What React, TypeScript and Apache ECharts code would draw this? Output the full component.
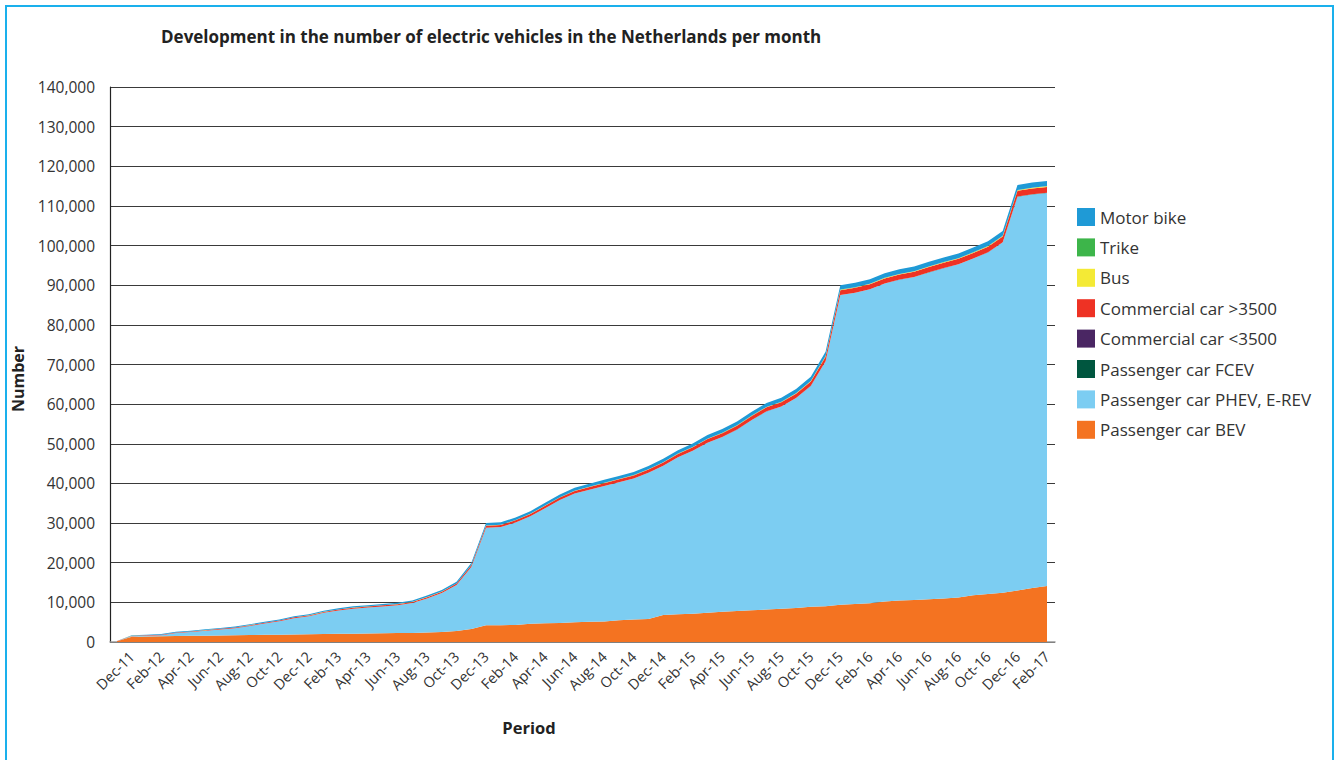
import React, { useEffect, useRef } from 'react';
import * as echarts from 'echarts';

const months = [
  'Nov-11', 'Dec-11', 'Jan-12', 'Feb-12', 'Mar-12', 'Apr-12', 'May-12', 'Jun-12', 'Jul-12', 'Aug-12', 'Sep-12', 'Oct-12', 'Nov-12', 'Dec-12',
  'Jan-13', 'Feb-13', 'Mar-13', 'Apr-13', 'May-13', 'Jun-13', 'Jul-13', 'Aug-13', 'Sep-13', 'Oct-13', 'Nov-13', 'Dec-13',
  'Jan-14', 'Feb-14', 'Mar-14', 'Apr-14', 'May-14', 'Jun-14', 'Jul-14', 'Aug-14', 'Sep-14', 'Oct-14', 'Nov-14', 'Dec-14',
  'Jan-15', 'Feb-15', 'Mar-15', 'Apr-15', 'May-15', 'Jun-15', 'Jul-15', 'Aug-15', 'Sep-15', 'Oct-15', 'Nov-15', 'Dec-15',
  'Jan-16', 'Feb-16', 'Mar-16', 'Apr-16', 'May-16', 'Jun-16', 'Jul-16', 'Aug-16', 'Sep-16', 'Oct-16', 'Nov-16', 'Dec-16',
  'Jan-17', 'Feb-17',
];

const passengerBEV = [
  200, 1350, 1400, 1450, 1500, 1550, 1600, 1650, 1700, 1750, 1800, 1850, 1900, 1950,
  2000, 2050, 2100, 2150, 2200, 2250, 2300, 2400, 2500, 2800, 3300, 4200,
  4250, 4300, 4600, 4700, 4800, 5000, 5100, 5200, 5500, 5700, 5800, 6800,
  7000, 7100, 7400, 7600, 7800, 8000, 8200, 8400, 8600, 8900, 9000, 9400,
  9600, 9800, 10200, 10500, 10600, 10800, 11000, 11200, 11800, 12100, 12400, 13000,
  13600, 14100,
];

const passengerPHEV = [
  20, 92, 172, 251, 781, 954, 1234, 1513, 1793, 2316, 2846, 3375, 4100, 4528,
  5358, 5882, 6312, 6540, 6765, 6994, 7524, 8577, 9837, 11561, 15640, 24633,
  24742, 25846, 27105, 29048, 31007, 32461, 33310, 34153, 34802, 35546, 36905, 37638,
  39587, 41130, 42879, 44122, 45770, 48014, 49963, 51005, 52954, 55698, 61816, 78139,
  78508, 79171, 80240, 80902, 81471, 82433, 83300, 84061, 84913, 86165, 88417, 99337,
  99298, 99174,
];

const passengerFCEV = [
  0, 0, 0, 0, 0, 0, 0, 0, 0, 0, 0, 0, 0, 0,
  0, 0, 0, 0, 0, 0, 0, 0, 0, 0, 0, 0,
  0, 0, 0, 0, 0, 0, 0, 0, 0, 0, 0, 0,
  0, 1, 1, 1, 2, 2, 2, 3, 3, 3, 4, 4,
  4, 5, 5, 6, 6, 8, 10, 12, 14, 16, 18, 20,
  22, 24,
];

const commercialSmall = [
  0, 1, 1, 1, 1, 2, 2, 2, 2, 3, 3, 3, 3, 4,
  4, 4, 4, 5, 5, 5, 5, 6, 6, 6, 6, 7,
  7, 7, 7, 8, 8, 8, 8, 9, 9, 9, 9, 10,
  10, 10, 10, 11, 11, 11, 11, 12, 12, 12, 12, 13,
  13, 13, 13, 14, 14, 14, 14, 15, 15, 15, 15, 16,
  16, 16,
];

const commercialLarge = [
  10, 100, 110, 120, 130, 140, 150, 160, 170, 180, 190, 200, 210, 220,
  230, 240, 250, 260, 270, 280, 290, 310, 330, 360, 400, 500,
  520, 540, 560, 590, 610, 630, 660, 690, 720, 750, 770, 800,
  830, 860, 890, 920, 950, 980, 1010, 1040, 1070, 1100, 1150, 1200,
  1220, 1240, 1260, 1280, 1300, 1320, 1340, 1360, 1380, 1400, 1420, 1450,
  1470, 1480,
];

const bus = [
  0, 5, 5, 5, 5, 10, 10, 10, 10, 15, 15, 15, 20, 20,
  20, 25, 25, 25, 30, 30, 30, 35, 35, 40, 40, 45,
  45, 50, 50, 55, 55, 60, 60, 65, 65, 70, 70, 75,
  75, 80, 80, 85, 85, 90, 90, 95, 95, 100, 100, 105,
  105, 110, 110, 115, 115, 120, 120, 125, 130, 135, 140, 145,
  150, 150,
];

const trike = [
  0, 2, 2, 3, 3, 4, 4, 5, 5, 6, 6, 7, 7, 8,
  8, 9, 9, 10, 10, 11, 11, 12, 12, 13, 14, 15,
  16, 17, 18, 19, 20, 21, 22, 23, 24, 25, 26, 27,
  28, 29, 30, 31, 32, 33, 34, 35, 36, 37, 38, 39,
  40, 41, 42, 43, 44, 45, 46, 47, 48, 49, 50, 52,
  54, 56,
];

const motorBike = [
  20, 150, 160, 170, 180, 190, 200, 210, 220, 230, 240, 250, 260, 270,
  280, 290, 300, 310, 320, 330, 340, 360, 380, 420, 500, 600,
  620, 640, 660, 680, 700, 720, 740, 760, 780, 800, 820, 850,
  870, 890, 910, 930, 950, 970, 990, 1010, 1030, 1050, 1080, 1100,
  1110, 1120, 1130, 1140, 1150, 1160, 1170, 1180, 1200, 1220, 1240, 1280,
  1290, 1300,
];

// stacking order bottom -> top
const seriesDefs = [
  { name: 'Passenger car BEV', data: passengerBEV, color: '#F47321' },
  { name: 'Passenger car PHEV, E-REV', data: passengerPHEV, color: '#7CCDF2' },
  { name: 'Passenger car FCEV', data: passengerFCEV, color: '#00563F' },
  { name: 'Commercial car <3500', data: commercialSmall, color: '#4A2663' },
  { name: 'Commercial car >3500', data: commercialLarge, color: '#EE3224' },
  { name: 'Bus', data: bus, color: '#F4EA35' },
  { name: 'Trike', data: trike, color: '#3DB54A' },
  { name: 'Motor bike', data: motorBike, color: '#1F9AD6' },
];

const FONT = '"Open Sans", "Noto Sans", sans-serif';

export default function App() {
  const ref = useRef<HTMLDivElement>(null);

  useEffect(() => {
    const chart = echarts.init(ref.current!, null, { renderer: 'svg' });
    chart.setOption({
      animation: false,
      backgroundColor: '#ffffff',
      textStyle: { fontFamily: FONT },
      title: {
        text: 'Development in the number of electric vehicles in the Netherlands per month',
        left: 156,
        top: 23,
        textStyle: { fontFamily: FONT, fontSize: 17, fontWeight: 'bold', color: '#222' },
      },
      legend: {
        orient: 'vertical',
        left: 1072,
        top: 203,
        itemWidth: 18,
        itemHeight: 18,
        itemGap: 12.4,
        icon: 'rect',
        data: [...seriesDefs].reverse().map((s) => s.name),
        textStyle: { fontFamily: FONT, fontSize: 17, color: '#333' },
      },
      grid: [
        { left: 110, top: 87, width: 945, height: 555, containLabel: false },
        { left: 117, top: 87, width: 930, height: 555, containLabel: false },
      ],
      xAxis: [
        {
          gridIndex: 0,
          type: 'value',
          min: 0,
          max: 1,
          axisLine: { show: true, lineStyle: { color: '#999', width: 1.5 } },
          axisTick: { show: false },
          axisLabel: { show: false },
          splitLine: { show: false },
        },
        {
          gridIndex: 1,
          type: 'category',
          boundaryGap: false,
          data: months,
          axisLine: { show: false },
          axisTick: { show: false },
          splitLine: { show: false },
          axisLabel: {
            interval: (index: number) => index % 2 === 1,
            rotate: 45,
            margin: 12,
            fontFamily: FONT,
            fontSize: 14.5,
            color: '#333',
          },
        },
      ],
      yAxis: [
        {
          gridIndex: 0,
          type: 'value',
          min: 0,
          max: 140000,
          interval: 10000,
          axisLine: { show: true, lineStyle: { color: '#222', width: 1.2 } },
          axisTick: { show: false },
          splitLine: { show: true, lineStyle: { color: '#3a3a3a', width: 1.2 } },
          axisLabel: {
            margin: 15,
            fontFamily: FONT,
            fontSize: 15.5,
            color: '#333',
            formatter: (v: number) => v.toLocaleString('en-US'),
          },
        },
        {
          gridIndex: 1,
          type: 'value',
          min: 0,
          max: 140000,
          interval: 10000,
          axisLine: { show: false },
          axisTick: { show: false },
          splitLine: { show: false },
          axisLabel: { show: false },
        },
      ],
      graphic: [
        {
          type: 'rect',
          shape: { x: 6, y: 6, width: 1327, height: 800 },
          style: { fill: 'none', stroke: '#1AB0EC', lineWidth: 2 },
          silent: true,
        },
        {
          type: 'text',
          x: 18,
          y: 379,
          rotation: Math.PI / 2,
          style: {
            text: 'Number',
            fontFamily: FONT,
            fontSize: 16,
            fontWeight: 'bold',
            fill: '#222',
            align: 'center',
            verticalAlign: 'middle',
          },
        },
        {
          type: 'text',
          x: 529,
          y: 727,
          style: {
            text: 'Period',
            fontFamily: FONT,
            fontSize: 16.5,
            fontWeight: 'bold',
            fill: '#222',
            align: 'center',
            verticalAlign: 'middle',
          },
        },
      ],
      series: seriesDefs.map((s) => ({
        name: s.name,
        type: 'line',
        xAxisIndex: 1,
        yAxisIndex: 1,
        stack: 'total',
        data: s.data,
        showSymbol: false,
        symbol: 'none',
        color: s.color,
        lineStyle: { width: 0 },
        areaStyle: { color: s.color, opacity: 1 },
        itemStyle: { color: s.color },
      })),
    });
    return () => chart.dispose();
  }, []);

  return (
    <div style={{ position: 'absolute', left: 0, top: 0, width: 1338, height: 760, background: '#fff' }}>
      <div ref={ref} style={{ width: 1338, height: 760 }} />
    </div>
  );
}
